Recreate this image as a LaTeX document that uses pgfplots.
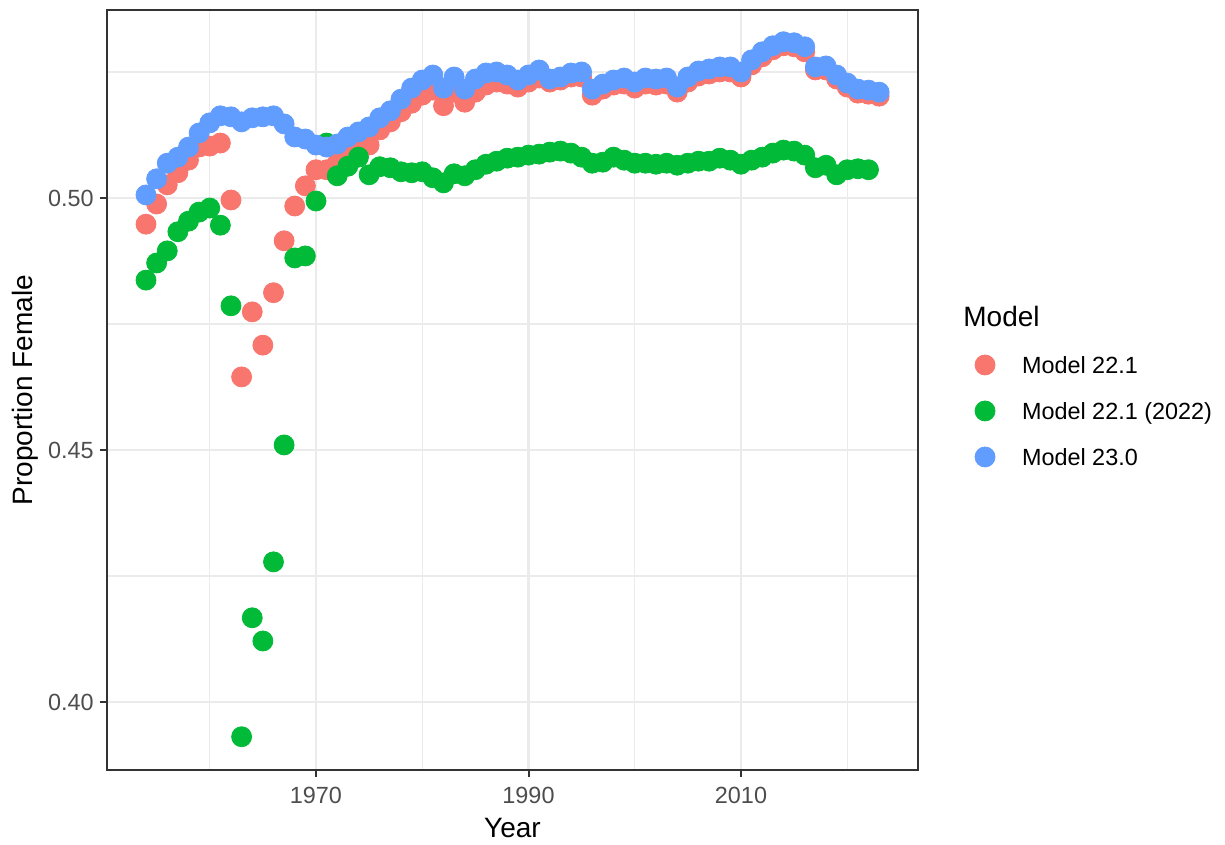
\documentclass[border=0pt]{standalone}
\usepackage{fontspec}
\setmainfont{Liberation Sans}
\usepackage{pgfplots}
\pgfplotsset{compat=1.18}
\definecolor{red221}{HTML}{F8766D}
\definecolor{green221}{HTML}{00BA38}
\definecolor{blue230}{HTML}{619CFF}
\definecolor{grey20}{HTML}{333333}
\definecolor{grey30}{HTML}{4D4D4D}
\definecolor{grey92}{HTML}{EBEBEB}

% proportion female by year
\pgfplotstableread{
year  red     green   blue
1954  0.4948  0.4837  0.5006
1955  0.4988  0.4871  0.5038
1956  0.5026  0.4895  0.5069
1957  0.5050  0.4933  0.5081
1958  0.5075  0.4954  0.5101
1959  0.5101  0.4972  0.5129
1960  0.5103  0.4980  0.5149
1961  0.5109  0.4946  0.5163
1962  0.4996  0.4786  0.5161
1963  0.4645  0.3931  0.5151
1964  0.4774  0.4167  0.5159
1965  0.4708  0.4121  0.5161
1966  0.4812  0.4278  0.5163
1967  0.4915  0.4510  0.5147
1968  0.4984  0.4881  0.5121
1969  0.5024  0.4885  0.5117
1970  0.5056  0.4994  0.5105
1971  0.5056  0.5109  0.5101
1972  0.5069  0.5044  0.5107
1973  0.5085  0.5063  0.5121
1974  0.5095  0.5081  0.5131
1975  0.5105  0.5046  0.5141
1976  0.5135  0.5062  0.5159
1977  0.5151  0.5060  0.5173
1978  0.5171  0.5052  0.5196
1979  0.5188  0.5050  0.5218
1980  0.5204  0.5052  0.5234
1981  0.5214  0.5040  0.5244
1982  0.5183  0.5030  0.5218
1983  0.5210  0.5048  0.5240
1984  0.5190  0.5044  0.5216
1985  0.5210  0.5056  0.5236
1986  0.5224  0.5067  0.5248
1987  0.5230  0.5073  0.5250
1988  0.5226  0.5079  0.5244
1989  0.5220  0.5081  0.5234
1990  0.5230  0.5085  0.5244
1991  0.5238  0.5087  0.5254
1992  0.5230  0.5091  0.5236
1993  0.5234  0.5093  0.5240
1994  0.5240  0.5089  0.5248
1995  0.5240  0.5081  0.5250
1996  0.5204  0.5069  0.5216
1997  0.5216  0.5071  0.5226
1998  0.5224  0.5081  0.5234
1999  0.5226  0.5075  0.5238
2000  0.5218  0.5069  0.5230
2001  0.5226  0.5069  0.5238
2002  0.5224  0.5067  0.5236
2003  0.5226  0.5069  0.5238
2004  0.5210  0.5065  0.5220
2005  0.5230  0.5069  0.5240
2006  0.5242  0.5073  0.5252
2007  0.5246  0.5073  0.5256
2008  0.5250  0.5079  0.5260
2009  0.5250  0.5075  0.5260
2010  0.5240  0.5067  0.5250
2011  0.5264  0.5075  0.5274
2012  0.5280  0.5081  0.5290
2013  0.5294  0.5089  0.5302
2014  0.5302  0.5095  0.5310
2015  0.5300  0.5093  0.5308
2016  0.5290  0.5085  0.5300
2017  0.5254  0.5060  0.5260
2018  0.5254  0.5065  0.5262
2019  0.5236  0.5046  0.5244
2020  0.5220  0.5056  0.5228
2021  0.5208  0.5058  0.5216
2022  0.5206  0.5056  0.5214
2023  0.5202  nan     0.5210
}\sexdata

\begin{document}
\begin{tikzpicture}
\useasboundingbox (0,0) rectangle (612.5pt,422.5pt);
\begin{axis}[
    at={(53.5pt,37.5pt)}, anchor=south west,
    scale only axis,
    width=405.5pt, height=380pt,
    xmin=1950.33, xmax=2026.66,
    ymin=0.3865, ymax=0.5373,
    xtick={1970,1990,2010},
    minor xtick={1960,1980,2000,2020},
    ytick={0.40,0.45,0.50},
    minor ytick={0.425,0.475,0.525},
    grid=both,
    major grid style={draw=grey92, line width=1.2pt},
    minor grid style={draw=grey92, line width=0.6pt},
    axis line style={draw=grey20, line width=1pt},
    tick align=outside,
    xtick pos=bottom, ytick pos=left,
    major tick length=3.5pt,
    minor tick length=0pt,
    major tick style={draw=grey20, line width=1pt},
    tick label style={font=\fontsize{11.7}{14}\selectfont, text=grey30},
    /pgf/number format/assume math mode=true,
    xticklabel style={/pgf/number format/1000 sep={}, anchor=north, inner sep=0pt, yshift=-5pt},
    yticklabel style={/pgf/number format/.cd, fixed, fixed zerofill, precision=2, /tikz/.cd,
        anchor=east, inner sep=0pt, xshift=-3pt},
    xlabel={Year}, ylabel={Proportion Female},
    every axis x label/.style={at={(axis description cs:0.5,-0.0763)}, anchor=center,
        font=\fontsize{14}{16}\selectfont},
    every axis y label/.style={at={(axis description cs:-0.1011,0.5)}, anchor=center, rotate=90,
        font=\fontsize{14}{16}\selectfont},
    legend style={at={(axis description cs:1.0697,0.4724)}, anchor=west,
        draw=none, fill=none, inner sep=0pt, outer sep=0pt,
        row sep=12.5pt, column sep=13.25pt,
        font=\fontsize{11.7}{14}\selectfont,
        nodes={inner sep=0pt, text height=8.5pt, text depth=0pt}},
    legend cell align=left,
    legend image code/.code={
        \draw[#1] plot coordinates {(5.25pt,0pt)};
        \path[draw=none, fill=none] (0pt,-5.25pt) rectangle (10.5pt,5.25pt);
    },
    every axis plot/.append style={only marks, mark=*, mark size=5pt},
]
\addplot[color=red221] table[x=year, y=red] {\sexdata};
\addlegendentry{Model 22.1}
\addplot[color=green221] table[x=year, y=green] {\sexdata};
\addlegendentry{Model 22.1 (2022)}
\addplot[color=blue230] table[x=year, y=blue] {\sexdata};
\addlegendentry{Model 23.0}
\end{axis}
\node[anchor=west, inner sep=0pt, font=\fontsize{14}{16}\selectfont] at (481.5pt,264pt) {Model};
\end{tikzpicture}
\end{document}
